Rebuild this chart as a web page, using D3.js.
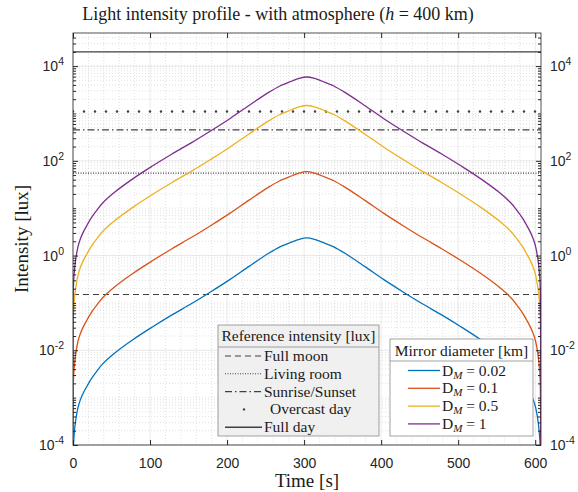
<!DOCTYPE html>
<html>
<head>
<meta charset="utf-8">
<script src="https://cdn.jsdelivr.net/npm/d3@7"></script>
<style>
  body { margin: 0; background: #fff; }
  .serif { font-family: "Liberation Serif", "DejaVu Serif", serif; fill: #1a1a1a; }
  .tick text { font-family: "Liberation Sans", Arial, sans-serif; font-size: 14px; fill: #262626; }
</style>
</head>
<body>
<script>
// time samples [s]
const time = [0, 0.5, 1.5, 3.5, 6.5, 9.5, 13.5, 18.5, 23.5, 31.5, 38.5, 53.5, 78.5, 103.5, 128.5, 153.5, 178.5, 203.5, 228.5, 253.5, 268.5, 283.5, 293.5,
  303.5,
  313.5, 323.5, 338.5, 353.5, 378.5, 403.5, 428.5, 453.5, 478.5, 503.5, 528.5, 553.5, 568.5, 575.5, 583.5, 588.5, 593.5, 597.5, 600.5, 603.5, 605.5, 606.5, 607];

// light intensity [lux] for each mirror diameter
const dm002 = [1e-6, 8.4e-5, 1.67e-4, 3.33e-4, 6.2e-4, 8.96e-4, 1.265e-3, 1.787e-3, 2.466e-3, 3.733e-3, 5.15e-3, 8.55e-3, 0.01706, 0.03141, 0.05584, 0.096, 0.1706, 0.3105, 0.5916, 1.1016, 1.521, 1.914, 2.198,
  2.355,
  2.198, 1.914, 1.521, 1.1016, 0.5916, 0.3105, 0.1706, 0.096, 0.05584, 0.03141, 0.01706, 8.55e-3, 5.15e-3, 3.733e-3, 2.466e-3, 1.787e-3, 1.265e-3, 8.96e-4, 6.2e-4, 3.33e-4, 1.67e-4, 8.4e-5, 1e-6];
const dm01 = [1e-6, 0.00209, 0.00417, 0.00832, 0.01549, 0.02239, 0.03162, 0.04467, 0.06166, 0.09333, 0.1288, 0.2138, 0.4266, 0.7852, 1.396, 2.399, 4.266, 7.762, 14.79, 27.54, 38.02, 47.86, 54.95,
  58.88,
  54.95, 47.86, 38.02, 27.54, 14.79, 7.762, 4.266, 2.399, 1.396, 0.7852, 0.4266, 0.2138, 0.1288, 0.09333, 0.06166, 0.04467, 0.03162, 0.02239, 0.01549, 0.00832, 0.00417, 0.00209, 1e-6];
const dm05 = [1e-6, 0.0523, 0.104, 0.208, 0.387, 0.56, 0.791, 1.117, 1.542, 2.333, 3.22, 5.345, 10.67, 19.63, 34.9, 59.98, 106.7, 194.1, 369.8, 688.5, 951, 1197, 1374,
  1472,
  1374, 1197, 951, 688.5, 369.8, 194.1, 106.7, 59.98, 34.9, 19.63, 10.67, 5.345, 3.22, 2.333, 1.542, 1.117, 0.791, 0.56, 0.387, 0.208, 0.104, 0.0523, 1e-6];
const dm1 = [1e-6, 0.209, 0.417, 0.832, 1.549, 2.239, 3.162, 4.467, 6.166, 9.333, 12.88, 21.38, 42.66, 78.52, 139.6, 239.9, 426.6, 776.2, 1479, 2754, 3802, 4786, 5495,
  5888,
  5495, 4786, 3802, 2754, 1479, 776.2, 426.6, 239.9, 139.6, 78.52, 42.66, 21.38, 12.88, 9.333, 6.166, 4.467, 3.162, 2.239, 1.549, 0.832, 0.417, 0.209, 1e-6];

const diameters = ["0.02", "0.1", "0.5", "1"];
const seriesColors = ["#0072BD", "#D95319", "#EDB120", "#7E2F8E"];

// reference intensities [lux]
const refNames = ["Full moon", "Living room", "Sunrise/Sunset", "Overcast day", "Full day"];
const refValues = [0.15, 55, 450, 1100, 20000];
const refDash = ["6,4", "1,1.5", "7,3,1.5,3", "0,11", null];

const xTicks = [0, 100, 200, 300, 400, 500, 600];
const yTickExp = [-4, -2, 0, 2, 4];

const w = 578, h = 492;
const L = 73, R = 541, T = 33, B = 445;

const x = d3.scaleLinear().domain([0, 607.5]).range([L, R]);
const y = d3.scaleLog().domain([1e-4, 5e4]).range([B, T]);

const svg = d3.select("body").append("svg")
  .attr("width", w).attr("height", h);

svg.append("defs").append("clipPath").attr("id", "clip")
  .append("rect").attr("x", L).attr("y", T).attr("width", R - L).attr("height", B - T);

svg.append("rect").attr("x", L).attr("y", T).attr("width", R - L).attr("height", B - T).attr("fill", "#fff");

// grid
const minorX = d3.range(0, 607, 20);
const minorY = [];
for (let e = -4; e <= 4; e++) for (let m = 1; m < 10; m++) { const v = m * Math.pow(10, e); if (v < 5e4) minorY.push(v); }

const grid = svg.append("g");
grid.selectAll(".gx").data(minorX).enter().append("line")
  .attr("x1", d => x(d)).attr("x2", d => x(d)).attr("y1", T).attr("y2", B)
  .attr("stroke", d => d % 100 === 0 ? "#e3e3e3" : "#d4d4d4")
  .attr("stroke-dasharray", d => d % 100 === 0 ? null : "1,2")
  .attr("stroke-width", 0.7);
grid.selectAll(".gy").data(minorY).enter().append("line")
  .attr("x1", L).attr("x2", R).attr("y1", d => y(d)).attr("y2", d => y(d))
  .attr("stroke", "#d4d4d4")
  .attr("stroke-dasharray", "1,2")
  .attr("stroke-width", 0.7);
grid.selectAll(".gyM").data(yTickExp).enter().append("line")
  .attr("x1", L).attr("x2", R).attr("y1", d => y(Math.pow(10, d))).attr("y2", d => y(Math.pow(10, d)))
  .attr("stroke", "#e3e3e3").attr("stroke-width", 0.7);

const plot = svg.append("g").attr("clip-path", "url(#clip)");

// reference lines
refValues.forEach((v, i) => {
  plot.append("line")
    .attr("x1", L).attr("x2", R).attr("y1", y(v)).attr("y2", y(v))
    .attr("stroke", "#404040")
    .attr("stroke-width", i === 3 ? 2.6 : (i === 4 ? 1.4 : 1.1))
    .attr("stroke-linecap", i === 3 ? "round" : "butt")
    .attr("stroke-dasharray", refDash[i]);
});

// intensity curves
const line = d3.line().x((d, i) => x(time[i])).y(d => y(d)).curve(d3.curveCatmullRom.alpha(0.5));
[dm002, dm01, dm05, dm1].forEach((s, i) => {
  plot.append("path").datum(s)
    .attr("d", line)
    .attr("fill", "none")
    .attr("stroke", seriesColors[i])
    .attr("stroke-width", 1.3);
});

// axes
const supFormat = function (sel) {
  sel.selectAll(".tick text").each(function (d) {
    const t = d3.select(this);
    const e = Math.round(Math.log10(d));
    t.text("10");
    t.append("tspan").attr("dy", "-0.55em").attr("font-size", "10.5px").text(e);
  });
};
const yVals = yTickExp.map(e => Math.pow(10, e));
const minorYTicks = minorY.filter(v => !yVals.some(m => Math.abs(m - v) / m < 1e-6));

svg.append("g").attr("transform", `translate(0,${B})`)
  .call(d3.axisBottom(x).tickValues(xTicks).tickSizeInner(-5).tickSizeOuter(0).tickPadding(13))
  .call(g => g.select(".domain").remove());
svg.append("g").attr("transform", `translate(0,${T})`)
  .call(d3.axisTop(x).tickValues(xTicks).tickSizeInner(-5).tickSizeOuter(0).tickFormat(""))
  .call(g => g.select(".domain").remove());
svg.append("g").attr("transform", `translate(${L},0)`)
  .call(d3.axisLeft(y).tickValues(yVals).tickSizeInner(-5).tickSizeOuter(0).tickPadding(9))
  .call(supFormat)
  .call(g => g.select(".domain").remove());
svg.append("g").attr("transform", `translate(${R},0)`)
  .call(d3.axisRight(y).tickValues(yVals).tickSizeInner(-5).tickSizeOuter(0).tickPadding(9))
  .call(supFormat)
  .call(g => g.select(".domain").remove());
svg.append("g").attr("transform", `translate(${L},0)`)
  .call(d3.axisLeft(y).tickValues(minorYTicks).tickSizeInner(-3).tickSizeOuter(0).tickFormat(""))
  .call(g => g.select(".domain").remove());
svg.append("g").attr("transform", `translate(${R},0)`)
  .call(d3.axisRight(y).tickValues(minorYTicks).tickSizeInner(-3).tickSizeOuter(0).tickFormat(""))
  .call(g => g.select(".domain").remove());
svg.selectAll(".tick line").attr("stroke", "#262626");

svg.append("rect").attr("x", L).attr("y", T).attr("width", R - L).attr("height", B - T)
  .attr("fill", "none").attr("stroke", "#262626").attr("stroke-width", 0.8);

// labels
const title = svg.append("text").attr("class", "serif")
  .attr("x", 278).attr("y", 20).attr("text-anchor", "middle").style("font-size", "18px");
title.append("tspan").text("Light intensity profile - with atmosphere (");
title.append("tspan").attr("font-style", "italic").text("h");
title.append("tspan").text(" = 400 km)");

svg.append("text").attr("class", "serif")
  .attr("x", (L + R) / 2).attr("y", 487).attr("text-anchor", "middle").style("font-size", "19px")
  .text("Time [s]");

svg.append("text").attr("class", "serif")
  .attr("transform", `translate(28,${(T + B) / 2}) rotate(-90)`).attr("text-anchor", "middle").style("font-size", "19px")
  .text("Intensity [lux]");

// reference legend
const lg1 = svg.append("g");
lg1.append("rect").attr("x", 218).attr("y", 325).attr("width", 161).attr("height", 111)
  .attr("fill", "#f0f0f0").attr("stroke", "#8a8a8a").attr("stroke-width", 0.8);
lg1.append("line").attr("x1", 218).attr("x2", 379).attr("y1", 347).attr("y2", 347)
  .attr("stroke", "#8a8a8a").attr("stroke-width", 0.8);
lg1.append("text").attr("class", "serif").attr("x", 298.5).attr("y", 341)
  .attr("text-anchor", "middle").style("font-size", "15.5px").text("Reference intensity [lux]");
refNames.forEach((n, i) => {
  const cy = 356 + i * 17.8;
  if (i === 3) {
    lg1.append("circle").attr("cx", 244).attr("cy", cy).attr("r", 1.2).attr("fill", "#404040");
  } else {
    lg1.append("line").attr("x1", 225).attr("x2", 262).attr("y1", cy).attr("y2", cy)
      .attr("stroke", "#404040").attr("stroke-width", i === 4 ? 1.4 : 1.1)
      .attr("stroke-dasharray", refDash[i]);
  }
  lg1.append("text").attr("class", "serif").attr("x", i === 3 ? 270 : 264).attr("y", cy + 5)
    .style("font-size", "15.5px").text(n);
});

// diameter legend
const lg2 = svg.append("g");
lg2.append("rect").attr("x", 390).attr("y", 339).attr("width", 143).attr("height", 97)
  .attr("fill", "#fff").attr("stroke", "#8a8a8a").attr("stroke-width", 0.8);
lg2.append("line").attr("x1", 390).attr("x2", 533).attr("y1", 361).attr("y2", 361)
  .attr("stroke", "#8a8a8a").attr("stroke-width", 0.8);
lg2.append("text").attr("class", "serif").attr("x", 461.5).attr("y", 355.5)
  .attr("text-anchor", "middle").style("font-size", "15.5px").text("Mirror diameter [km]");
diameters.forEach((dm, i) => {
  const cy = 370.5 + i * 17.8;
  lg2.append("line").attr("x1", 408).attr("x2", 440).attr("y1", cy).attr("y2", cy)
    .attr("stroke", seriesColors[i]).attr("stroke-width", 1.3);
  const t = lg2.append("text").attr("class", "serif").attr("x", 442).attr("y", cy + 5)
    .style("font-size", "15.5px").text("D");
  t.append("tspan").attr("font-style", "italic").attr("font-size", "11px").attr("dy", 3).text("M");
  t.append("tspan").attr("dy", -3).text(" = " + dm);
});
</script>
</body>
</html>
